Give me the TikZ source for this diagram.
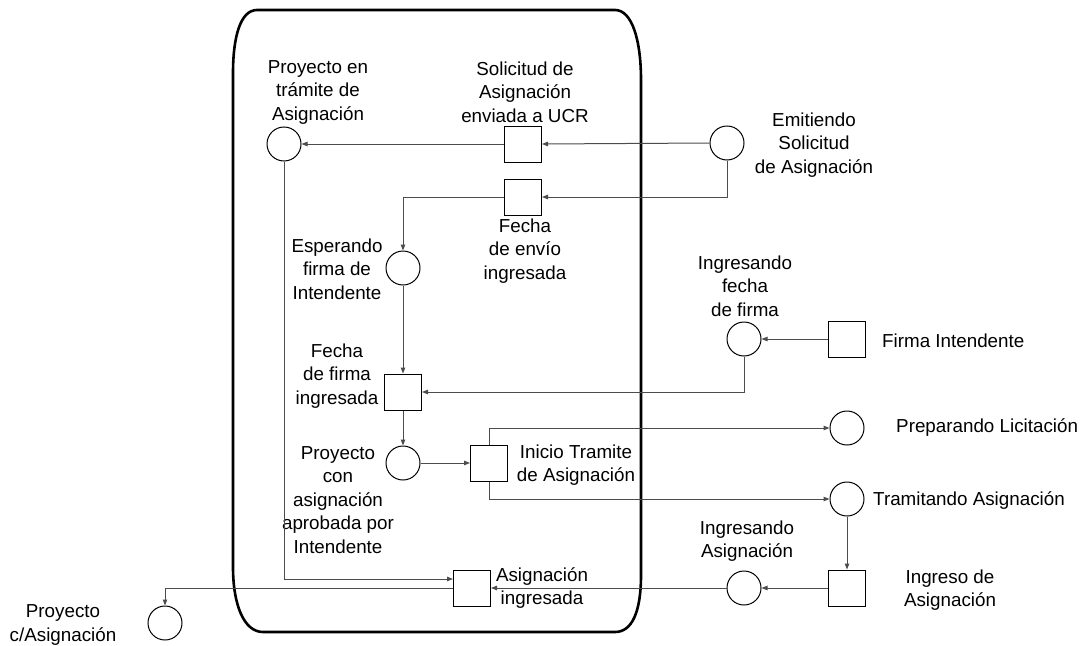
\documentclass[tikz,border=0pt]{standalone}
\usepackage{fontspec}
\setmainfont{Liberation Sans}
\usetikzlibrary{arrows.meta}
\begin{document}
\begin{tikzpicture}[x=1pt,y=-1pt,
  place/.style={circle,draw,line width=1pt,minimum size=34pt,inner sep=0pt},
  trans/.style={rectangle,draw,line width=1pt,minimum width=37pt,minimum height=36pt,inner sep=0pt},
  lbl/.style={align=center,inner sep=0pt,font=\fontsize{18.8}{23.5}\selectfont},
  flow/.style={draw=black!70,line width=1pt,-{Triangle[length=6pt,width=4.5pt]}},
  area/.style={draw=black,line width=2.6pt}]
\useasboundingbox (0,0) rectangle (1086,645);

% subsystem boundary
\draw[area] (257,10) -- (615,10) .. controls (632,10) and (641,40) .. (641,80)
  -- (641,575) .. controls (641,612) and (632,632) .. (615,632)
  -- (263,632) .. controls (244,632) and (233,605) .. (233,567)
  -- (233,73) .. controls (233,38) and (240,10) .. (257,10) -- cycle;

% places
\node[place] (pTram)  at (284,144) {};
\node[place] (pEmit)  at (727,143) {};
\node[place] (pEsp)   at (403,268) {};
\node[place] (pIngF)  at (744,339) {};
\node[place] (pAprob) at (403,463) {};
\node[place] (pPrep)  at (847,428) {};
\node[place] (pTrAs)  at (847,499) {};
\node[place] (pIngA)  at (744,588) {};
\node[place] (pFin)   at (165,623) {};

% transitions
\node[trans] (tSol)   at (523,144) {};
\node[trans] (tEnv)   at (523,197) {};
\node[trans] (tFirma) at (403,392) {};
\node[trans] (tInt)   at (847,339) {};
\node[trans] (tIni)   at (489,463) {};
\node[trans] (tIngr)  at (847,588) {};
\node[trans] (tAsig)  at (472,588) {};

% labels
\node[lbl] (lTram)  at (318,92)  {Proyecto en\\trámite de\\Asignación};
\node[lbl] (lSol)   at (525,92)  {Solicitud de\\Asignación\\enviada a UCR};
\node[lbl] (lEmit)  at (814,145) {Emitiendo\\Solicitud\\de Asignación};
\node[lbl] (lEnv)   at (525,251) {Fecha\\de envío\\ingresada};
\node[lbl] (lEsp)   at (337,269) {Esperando\\firma de\\Intendente};
\node[lbl] (lIngF)  at (745,286) {Ingresando\\fecha\\de firma};
\node[lbl,anchor=west] (lInt) at (882,341) {Firma Intendente};
\node[lbl] (lFirma) at (337,376) {Fecha\\de firma\\ingresada};
\node[lbl] (lAprob) at (338,500) {Proyecto\\con\\asignación\\aprobada por\\Intendente};
\node[lbl] (lIni)   at (576,465) {Inicio Tramite\\de Asignación};
\node[lbl,anchor=west] (lPrep) at (896,428) {Preparando Licitación};
\node[lbl,anchor=west] (lTrAs) at (873,501) {Tramitando Asignación};
\node[lbl] (lIngA)  at (747,541) {Ingresando\\Asignación};
\node[lbl] (lIngr)  at (950,590) {Ingreso de\\Asignación};
\node[lbl] (lAsig)  at (542,588) {Asignación\\ingresada};
\node[lbl] (lFin)   at (63,625)  {Proyecto\\c/Asignación};

% arcs
\draw[flow] (pEmit.west) -- (tSol.east);
\draw[flow] (tSol.west) -- (pTram.east);
\draw[flow] (pEmit.south) |- (tEnv.east);
\draw[flow] (tEnv.west) -| (pEsp.north);
\draw[flow] (pEsp.south) -- (tFirma.north);
\draw[flow] (tInt.west) -- (pIngF.east);
\draw[flow] (pIngF.south) |- (tFirma.east);
\draw[flow] (tFirma.south) -- (pAprob.north);
\draw[flow] (pAprob.east) -- (tIni.west);
\draw[flow] (tIni.north) |- (pPrep.west);
\draw[flow] (tIni.south) |- (pTrAs.west);
\draw[flow] (pTrAs.south) -- (tIngr.north);
\draw[flow] (tIngr.west) -- (pIngA.east);
\draw[flow] (pIngA.west) -- (tAsig.east);
\draw[flow] (pTram.south) |- ([yshift=9pt]tAsig.west);
\draw[flow] (tAsig.west) -| (pFin.north);
\end{tikzpicture}
\end{document}
